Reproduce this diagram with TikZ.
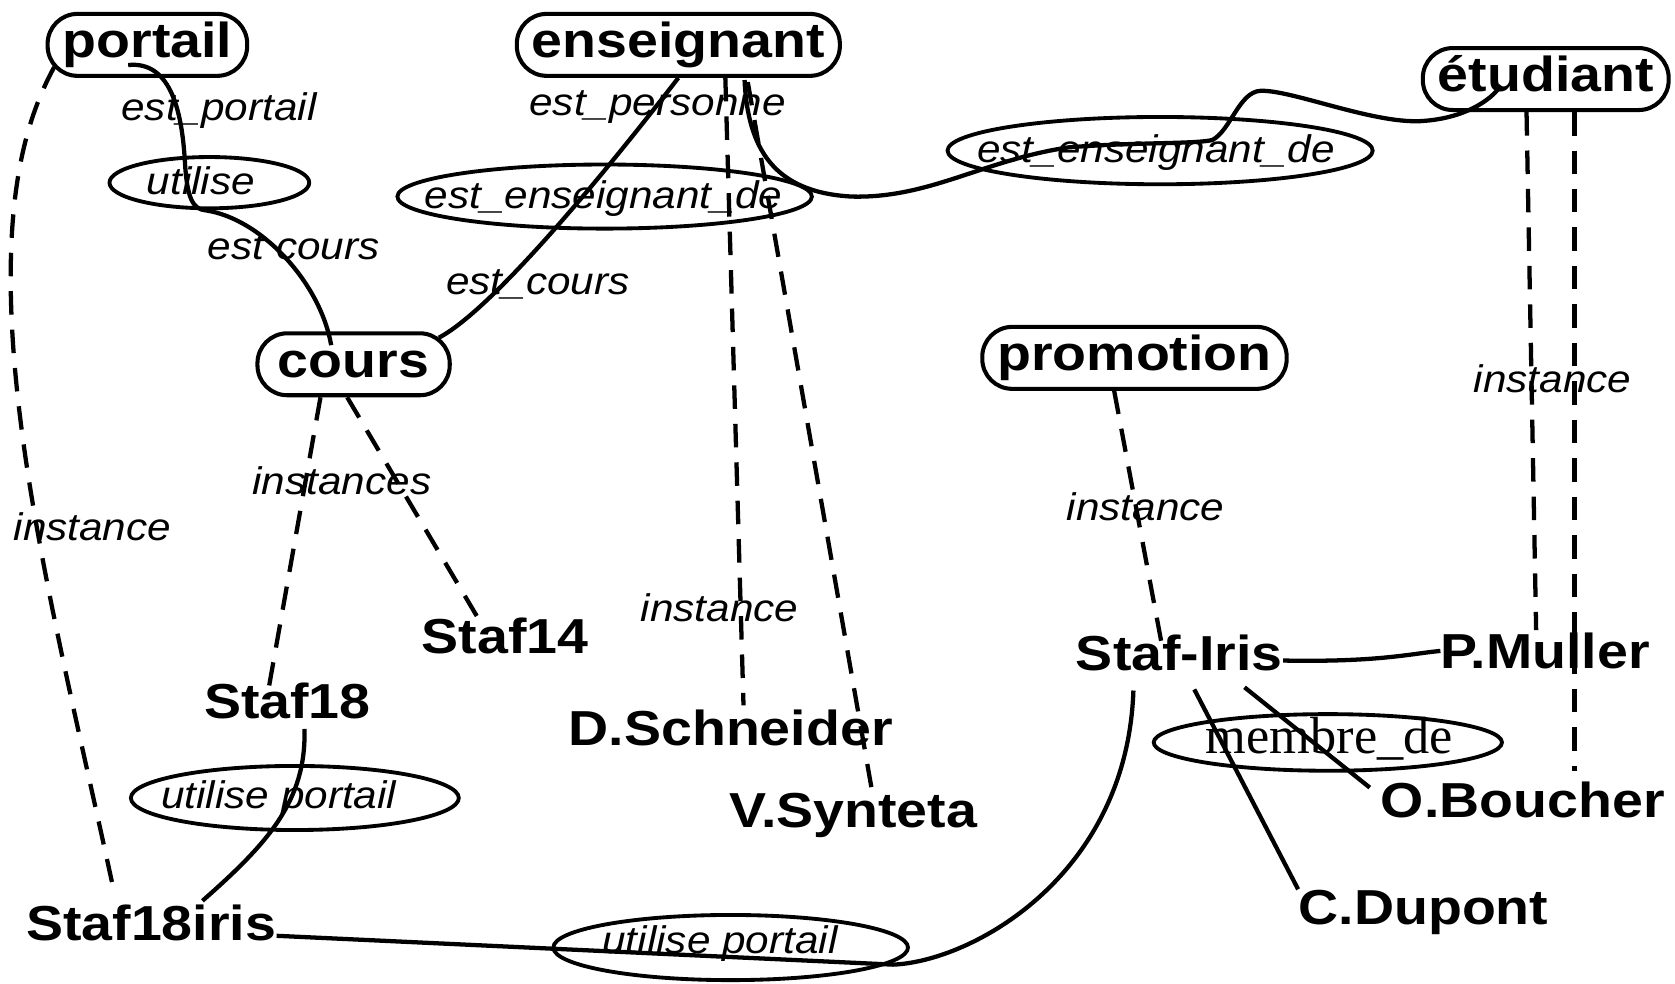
\documentclass[tikz,border=0pt]{standalone}
\usepackage{fontspec}
\setmainfont{Liberation Sans}
\newfontfamily\boldsans[FakeStretch=1.13]{Liberation Sans}
\newfontfamily\itsans[FakeStretch=1.1]{Liberation Sans}
\newfontfamily\relserif{Liberation Serif}
\usetikzlibrary{shapes.geometric, positioning, calc}

\tikzset{
  classe/.style={draw, line width=1.9pt, rounded corners=14pt, font=\boldsans\bfseries\fontsize{23}{26}\selectfont,
    minimum height=29pt, inner xsep=7pt, inner ysep=0pt, text height=16.8pt, text depth=4.8pt},
  objet/.style={font=\boldsans\bfseries\fontsize{23}{26}\selectfont, inner sep=0pt, text depth=0pt, anchor=base},
  relation/.style={draw, ellipse, line width=1.8pt, inner sep=0pt},
  etiq/.style={font=\itsans\itshape\fontsize{18}{20}\selectfont, inner sep=0pt, anchor=base},
  lien/.style={line width=2pt},
  inst/.style={line width=2pt, dash pattern=on 11pt off 7pt},
}

\begin{document}
\begin{tikzpicture}[x=0.5pt, y=-0.5pt]
      \useasboundingbox (0,0) rectangle (1568,921);

      \node[classe] (portail) at (138,42) {portail};
      \node[classe] (enseignant) at (635,42) {enseignant};
      \node[classe] (etudiant) at (1447,74) {étudiant};
      \node[classe, minimum width=90pt] (cours) at (331,341) {cours};
      \node[classe] (promotion) at (1062,335) {promotion};

      \node[objet] (Staf18) at (269,673) {Staf18};
      \node[objet] (Staf14) at (473,612) {Staf14};
      \node[objet] (Staf18iris) at (141.5,880) {Staf18iris};
      \node[objet] (DSchneider) at (684,698) {D.Schneider};
      \node[objet] (VSynteta) at (798.5,775) {V.Synteta};
      \node[objet] (StafIris) at (1104,628) {Staf-Iris};
      \node[objet] (PMuller) at (1446.5,626) {P.Muller};
      \node[objet] (OBoucher) at (1425.5,765) {O.Boucher};
      \node[objet] (CDupont) at (1332.5,865) {C.Dupont};

      \node[relation, minimum width=93.5pt, minimum height=24pt] (utilise) at (196,171) {};
      \node[relation, minimum width=194pt, minimum height=30pt] (eedA) at (566,184) {};
      \node[relation, minimum width=199pt, minimum height=31.5pt] (eedB) at (1086,141) {};
      \node[relation, minimum width=153.5pt, minimum height=30pt] (upA) at (276,747) {};
      \node[relation, minimum width=166pt, minimum height=30.5pt] (upB) at (684,887) {};
      \node[relation, minimum width=163pt, minimum height=26.5pt] (membre) at (1243,695) {};

      \node[etiq] (tutilise) at (188,182) {utilise};
      \node[etiq] (teedA) at (565,195) {est\_enseignant\_de};
      \node[etiq] (teedB) at (1082,152) {est\_enseignant\_de};
      \node[etiq] (tupA) at (261,757) {utilise portail};
      \node[etiq] (tupB) at (674,893) {utilise portail};
      \node[anchor=base, inner sep=0pt, font=\relserif\fontsize{24.5}{26}\selectfont] (tmembre) at (1244.5,705) {membre\_de};

      \node[etiq] (estportail) at (205,113) {est\_portail};
      \node[etiq] (estcoursA) at (275,243) {est cours};
      \node[etiq] (estpersonne) at (615.5,108) {est\_personne};
      \node[etiq] (estcoursB) at (503.5,276) {est\_cours};
      \node[etiq] (instances) at (320,463) {instances};
      \node[etiq] (instA) at (86.5,506) {instance};
      \node[etiq] (instB) at (673.5,582) {instance};
      \node[etiq] (instC) at (1072.5,487) {instance};
      \node[etiq] (instD) at (1453.5,367) {instance};

      \draw[lien] ([xshift=-9pt,yshift=6pt]portail.south) .. controls (158,57) and (170,100) .. (173,150)
        .. controls (175,185) and (180,196) .. (193,197) .. controls (245,205) and (300,265) .. ([xshift=-10.5pt,yshift=-6.5pt]cours.north);
      \draw[lien] ([xshift=-6pt,yshift=-3pt]cours.north east) .. controls (460,290) and (560,170) .. (enseignant.south);
      \draw[lien] ([xshift=31pt,yshift=-1pt]enseignant.south) .. controls (700,140) and (725,180) .. (797,184)
        .. controls (870,186) and (920,150) .. (1000,138) .. controls (1060,133) and (1120,135) .. (1135,131)
        .. controls (1152,122) and (1160,86) .. (1180,85) .. controls (1210,84) and (1290,118) .. (1335,113)
        .. controls (1370,110) and (1395,95) .. ([xshift=-21pt,yshift=-3pt]etudiant.center);
      \draw[lien] ([xshift=8pt,yshift=-4.5pt]Staf18.south) .. controls (287,750) and (250,790) .. ([xshift=24pt,yshift=1.5pt]Staf18iris.north);
      \draw[lien] ([yshift=2pt]Staf18iris.base east) -- (836,903) .. controls (910,900) and (1055,820) .. ([xshift=-21.5pt,yshift=-9pt]StafIris.south);
      \draw[lien] ([yshift=-3.5pt]StafIris.east) .. controls (1290,620) and (1320,612) .. (PMuller.west);
      \draw[lien] ([xshift=7pt,yshift=-8.5pt]StafIris.south) -- (CDupont.north west);
      \draw[lien] ([xshift=30.5pt,yshift=-7.5pt]StafIris.south) -- ([xshift=-5pt,yshift=-3pt]OBoucher.north west);

      \draw[inst] ([xshift=4pt,yshift=5pt]portail.south west) .. controls (25,110) and (10,170) .. (10,260)
        .. controls (10,430) and (65,640) .. ([xshift=-17pt,yshift=4pt]Staf18iris.north);
      \draw[inst] ([xshift=-15.5pt]cours.south) -- ([xshift=-9pt,yshift=-4pt]Staf18.north);
      \draw[inst] ([xshift=-3pt]cours.south) -- ([xshift=-10.5pt,yshift=-4pt]Staf14.north);
      \draw[inst] ([xshift=22pt]enseignant.south) -- ([xshift=6pt,yshift=2pt]DSchneider.north);
      \draw[inst] ([xshift=32.5pt,yshift=-2pt]enseignant.south) -- ([xshift=9.75pt,yshift=-3.8pt]VSynteta.north);
      \draw[inst] ([xshift=-9.5pt]promotion.south) -- ([xshift=-8.5pt,yshift=-3pt]StafIris.north);
      \draw[inst] ([xshift=-9pt]etudiant.south) -- ([xshift=-4.25pt,yshift=1.2pt]PMuller.north);
      \draw[inst] ([xshift=13.5pt]etudiant.south) -- ([xshift=24.25pt,yshift=4.7pt]OBoucher.north);
\end{tikzpicture}
\end{document}
